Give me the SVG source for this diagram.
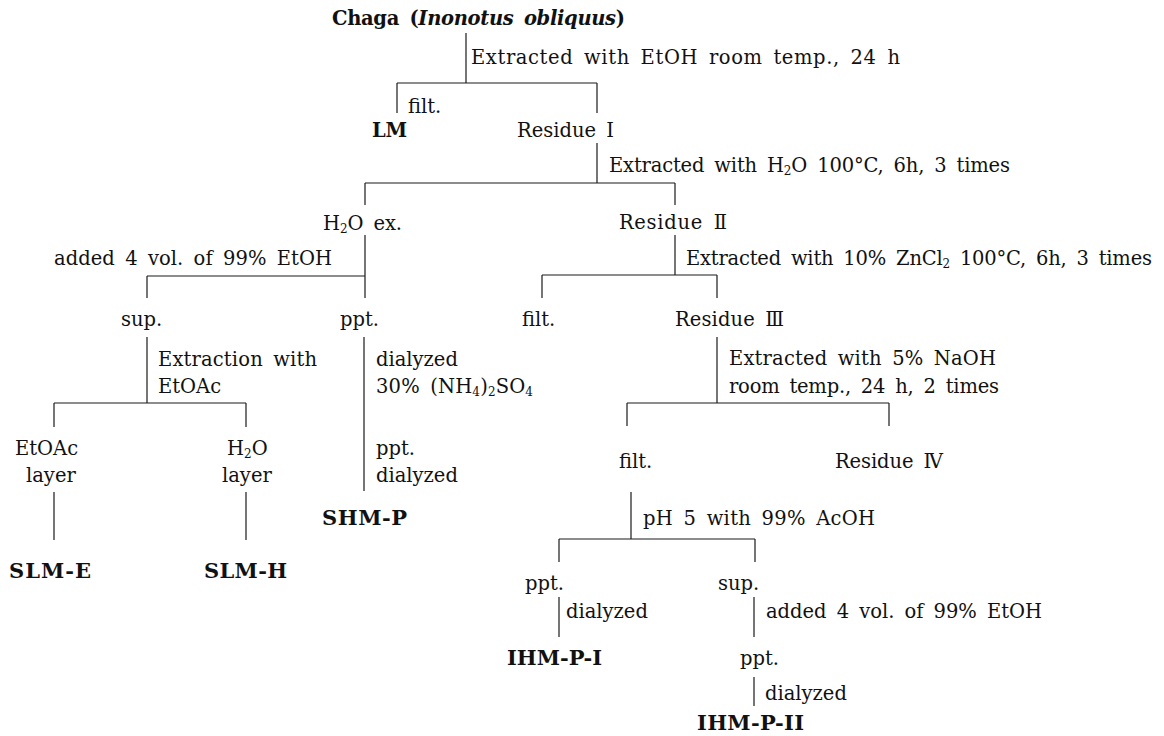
<svg xmlns="http://www.w3.org/2000/svg" width="1164" height="736" viewBox="0 0 1164 736">
<style>
text{font-family:"DejaVu Serif","Liberation Serif","Noto Sans CJK KR",serif;font-size:19.5px;fill:#111;word-spacing:4px}
.b{font-weight:bold}
.lbl{font-size:21px}
.i{font-style:italic}
.sub{font-size:12px}
.rn{font-family:"DejaVu Serif","Noto Sans CJK KR",serif}
#connectors line{stroke:#1a1a1a;stroke-width:1.2;fill:none}
</style>
<rect width="1164" height="736" fill="#fff"/>
<g id="connectors">
<line x1="466" y1="33" x2="466" y2="83"/>
<line x1="397" y1="83" x2="597" y2="83"/>
<line x1="397" y1="83" x2="397" y2="113"/>
<line x1="597" y1="83" x2="597" y2="113"/>
<line x1="597" y1="143" x2="597" y2="183"/>
<line x1="365" y1="183" x2="675" y2="183"/>
<line x1="365" y1="183" x2="365" y2="205"/>
<line x1="675" y1="183" x2="675" y2="205"/>
<line x1="365" y1="235" x2="365" y2="298"/>
<line x1="147" y1="276" x2="365" y2="276"/>
<line x1="147" y1="276" x2="147" y2="298"/>
<line x1="675" y1="235" x2="675" y2="275"/>
<line x1="542" y1="275" x2="717" y2="275"/>
<line x1="542" y1="275" x2="542" y2="298"/>
<line x1="717" y1="275" x2="717" y2="298"/>
<line x1="147" y1="337" x2="147" y2="403"/>
<line x1="54" y1="403" x2="246" y2="403"/>
<line x1="54" y1="403" x2="54" y2="427"/>
<line x1="246" y1="403" x2="246" y2="427"/>
<line x1="364" y1="337" x2="364" y2="491"/>
<line x1="717" y1="337" x2="717" y2="403"/>
<line x1="627" y1="403" x2="889" y2="403"/>
<line x1="627" y1="403" x2="627" y2="426"/>
<line x1="889" y1="403" x2="889" y2="426"/>
<line x1="54" y1="492" x2="54" y2="540"/>
<line x1="246" y1="492" x2="246" y2="540"/>
<line x1="631" y1="492" x2="631" y2="539"/>
<line x1="559" y1="539" x2="755" y2="539"/>
<line x1="559" y1="539" x2="559" y2="562"/>
<line x1="755" y1="539" x2="755" y2="562"/>
<line x1="559" y1="597" x2="559" y2="637"/>
<line x1="754" y1="597" x2="754" y2="637"/>
<line x1="754" y1="677" x2="754" y2="706"/>
</g>
<g id="chaga"><text class="b" x="332" y="25" font-size="19" textLength="293" lengthAdjust="spacing">Chaga (<tspan class="i">Inonotus obliquus</tspan>)</text></g>
<g id="step-etoh"><text x="471" y="64" textLength="429" lengthAdjust="spacing">Extracted with EtOH room temp., 24 h</text></g>
<g id="filt1"><text x="408" y="113">filt.</text></g>
<g id="lm"><text class="b" x="372" y="137" textLength="35" lengthAdjust="spacing">LM</text></g>
<g id="residue1"><text x="517" y="137">Residue <tspan class="rn">Ⅰ</tspan></text></g>
<g id="step-h2o"><text x="609" y="172" textLength="401" lengthAdjust="spacing">Extracted with H<tspan class="sub" dy="3">2</tspan><tspan dy="-3">O 100°C, 6h, 3 times</tspan></text></g>
<g id="h2o-ex"><text x="323" y="230" textLength="79" lengthAdjust="spacing">H<tspan class="sub" dy="3">2</tspan><tspan dy="-3">O ex.</tspan></text></g>
<g id="residue2"><text x="619" y="229" textLength="108" lengthAdjust="spacing">Residue <tspan class="rn">Ⅱ</tspan></text></g>
<g id="step-etoh4"><text x="54" y="265" textLength="278" lengthAdjust="spacing">added 4 vol. of 99% EtOH</text></g>
<g id="step-zncl2"><text x="686" y="265" textLength="466" lengthAdjust="spacing">Extracted with 10% ZnCl<tspan class="sub" dy="3">2</tspan><tspan dy="-3"> 100°C, 6h, 3 times</tspan></text></g>
<g id="sup1"><text x="121" y="326">sup.</text></g>
<g id="ppt1"><text x="340" y="326">ppt.</text></g>
<g id="filt2"><text x="522" y="326">filt.</text></g>
<g id="residue3"><text x="675" y="326" textLength="109" lengthAdjust="spacing">Residue <tspan class="rn">Ⅲ</tspan></text></g>
<g id="step-etoac"><text x="158" y="366" textLength="159" lengthAdjust="spacing">Extraction with</text><text x="158" y="393">EtOAc</text></g>
<g id="step-dial1"><text x="376" y="366">dialyzed</text><text x="376" y="393" textLength="157" lengthAdjust="spacing">30% (NH<tspan class="sub" dy="3">4</tspan><tspan dy="-3">)</tspan><tspan class="sub" dy="3">2</tspan><tspan dy="-3">SO</tspan><tspan class="sub" dy="3">4</tspan></text></g>
<g id="step-naoh"><text x="729" y="365" textLength="267" lengthAdjust="spacing">Extracted with 5% NaOH</text><text x="729" y="393" textLength="270" lengthAdjust="spacing">room temp., 24 h, 2 times</text></g>
<g id="etoac-layer"><text x="15" y="455">EtOAc</text><text x="26" y="482">layer</text></g>
<g id="h2o-layer"><text x="227" y="455">H<tspan class="sub" dy="3">2</tspan><tspan dy="-3">O</tspan></text><text x="222" y="482">layer</text></g>
<g id="ppt2"><text x="376" y="455">ppt.</text><text x="376" y="482">dialyzed</text></g>
<g id="filt3"><text x="619" y="468">filt.</text></g>
<g id="residue4"><text x="835" y="468" textLength="108" lengthAdjust="spacing">Residue <tspan class="rn">Ⅳ</tspan></text></g>
<g id="shm-p"><text class="b lbl" x="322" y="525" textLength="85" lengthAdjust="spacing">SHM-P</text></g>
<g id="step-ph"><text x="643" y="525" textLength="232" lengthAdjust="spacing">pH 5 with 99% AcOH</text></g>
<g id="slm-e"><text class="b lbl" x="9" y="578" textLength="82" lengthAdjust="spacing">SLM-E</text></g>
<g id="slm-h"><text class="b lbl" x="204" y="578" textLength="83" lengthAdjust="spacing">SLM-H</text></g>
<g id="ppt3"><text x="525" y="590">ppt.</text></g>
<g id="sup2"><text x="718" y="590">sup.</text></g>
<g id="step-dial2"><text x="566" y="618">dialyzed</text></g>
<g id="step-etoh5"><text x="766" y="618" textLength="276" lengthAdjust="spacing">added 4 vol. of 99% EtOH</text></g>
<g id="ihm-p-i"><text class="b lbl" x="507" y="665" textLength="95" lengthAdjust="spacing">IHM-P-I</text></g>
<g id="ppt4"><text x="740" y="665">ppt.</text></g>
<g id="step-dial3"><text x="765" y="700">dialyzed</text></g>
<g id="ihm-p-ii"><text class="b lbl" x="697" y="730" textLength="107" lengthAdjust="spacing">IHM-P-II</text></g>
</svg>
